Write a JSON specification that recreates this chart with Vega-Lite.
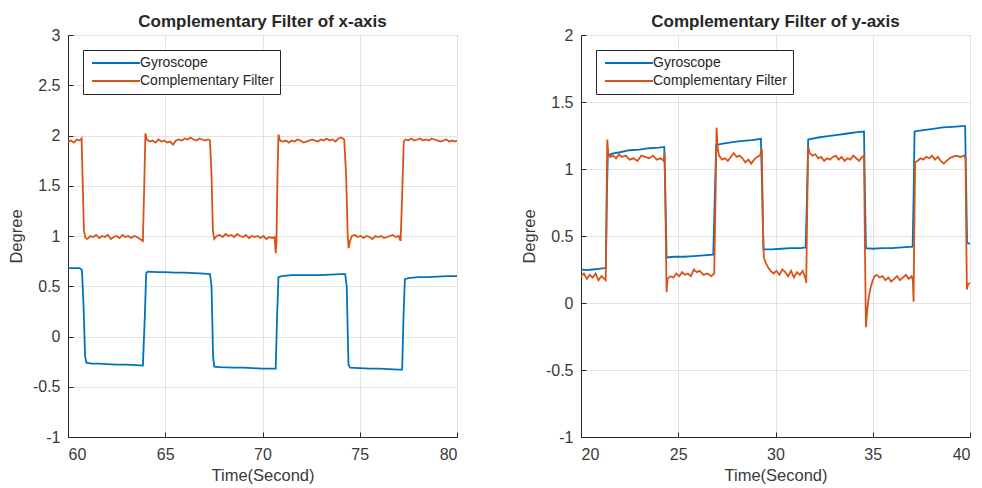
{
  "$schema": "https://vega.github.io/schema/vega-lite/v6.json",
  "background": "white",
  "padding": {"left": 7, "top": 12, "right": 5, "bottom": 0},
  "spacing": 124,
  "bounds": "flush",
  "datasets": {
    "xd": [
      {"t":60.0,"v":0.68,"s":"Gyroscope"},{"t":60.3,"v":0.68,"s":"Gyroscope"},{"t":60.6,"v":0.68,"s":"Gyroscope"},{"t":60.72,"v":0.66,"s":"Gyroscope"},{"t":60.8,"v":0.3,"s":"Gyroscope"},{"t":60.88,"v":-0.2,"s":"Gyroscope"},{"t":60.95,"v":-0.26,"s":"Gyroscope"},{"t":61.2,"v":-0.27,"s":"Gyroscope"},{"t":61.6,"v":-0.27,"s":"Gyroscope"},{"t":62.0,"v":-0.275,"s":"Gyroscope"},{"t":62.5,"v":-0.28,"s":"Gyroscope"},{"t":63.0,"v":-0.28,"s":"Gyroscope"},{"t":63.5,"v":-0.285,"s":"Gyroscope"},{"t":63.85,"v":-0.29,"s":"Gyroscope"},{"t":63.95,"v":0.2,"s":"Gyroscope"},{"t":64.02,"v":0.63,"s":"Gyroscope"},{"t":64.1,"v":0.645,"s":"Gyroscope"},{"t":64.6,"v":0.64,"s":"Gyroscope"},{"t":65.0,"v":0.64,"s":"Gyroscope"},{"t":65.5,"v":0.635,"s":"Gyroscope"},{"t":66.0,"v":0.635,"s":"Gyroscope"},{"t":66.5,"v":0.63,"s":"Gyroscope"},{"t":67.0,"v":0.625,"s":"Gyroscope"},{"t":67.3,"v":0.62,"s":"Gyroscope"},{"t":67.38,"v":0.5,"s":"Gyroscope"},{"t":67.46,"v":-0.2,"s":"Gyroscope"},{"t":67.52,"v":-0.3,"s":"Gyroscope"},{"t":67.8,"v":-0.305,"s":"Gyroscope"},{"t":68.5,"v":-0.31,"s":"Gyroscope"},{"t":69.0,"v":-0.31,"s":"Gyroscope"},{"t":69.5,"v":-0.315,"s":"Gyroscope"},{"t":70.0,"v":-0.32,"s":"Gyroscope"},{"t":70.5,"v":-0.32,"s":"Gyroscope"},{"t":70.68,"v":-0.32,"s":"Gyroscope"},{"t":70.75,"v":0.2,"s":"Gyroscope"},{"t":70.82,"v":0.59,"s":"Gyroscope"},{"t":71.0,"v":0.6,"s":"Gyroscope"},{"t":71.5,"v":0.61,"s":"Gyroscope"},{"t":72.0,"v":0.61,"s":"Gyroscope"},{"t":72.5,"v":0.61,"s":"Gyroscope"},{"t":73.0,"v":0.61,"s":"Gyroscope"},{"t":73.5,"v":0.615,"s":"Gyroscope"},{"t":74.0,"v":0.62,"s":"Gyroscope"},{"t":74.25,"v":0.62,"s":"Gyroscope"},{"t":74.33,"v":0.5,"s":"Gyroscope"},{"t":74.42,"v":-0.28,"s":"Gyroscope"},{"t":74.5,"v":-0.31,"s":"Gyroscope"},{"t":75.0,"v":-0.315,"s":"Gyroscope"},{"t":75.5,"v":-0.32,"s":"Gyroscope"},{"t":76.0,"v":-0.32,"s":"Gyroscope"},{"t":76.5,"v":-0.325,"s":"Gyroscope"},{"t":77.0,"v":-0.33,"s":"Gyroscope"},{"t":77.18,"v":-0.33,"s":"Gyroscope"},{"t":77.25,"v":0.2,"s":"Gyroscope"},{"t":77.32,"v":0.57,"s":"Gyroscope"},{"t":77.5,"v":0.58,"s":"Gyroscope"},{"t":78.0,"v":0.59,"s":"Gyroscope"},{"t":78.5,"v":0.59,"s":"Gyroscope"},{"t":79.0,"v":0.595,"s":"Gyroscope"},{"t":79.5,"v":0.6,"s":"Gyroscope"},{"t":80.0,"v":0.6,"s":"Gyroscope"},
      {"t":60.0,"v":1.94,"s":"Complementary Filter"},{"t":60.15,"v":1.95,"s":"Complementary Filter"},{"t":60.3,"v":1.93,"s":"Complementary Filter"},{"t":60.45,"v":1.96,"s":"Complementary Filter"},{"t":60.6,"v":1.95,"s":"Complementary Filter"},{"t":60.7,"v":1.97,"s":"Complementary Filter"},{"t":60.76,"v":1.5,"s":"Complementary Filter"},{"t":60.82,"v":1.05,"s":"Complementary Filter"},{"t":60.9,"v":0.98,"s":"Complementary Filter"},{"t":61.0,"v":0.97,"s":"Complementary Filter"},{"t":61.15,"v":1.0,"s":"Complementary Filter"},{"t":61.3,"v":0.99,"s":"Complementary Filter"},{"t":61.45,"v":1.01,"s":"Complementary Filter"},{"t":61.6,"v":0.98,"s":"Complementary Filter"},{"t":61.75,"v":1.0,"s":"Complementary Filter"},{"t":61.9,"v":0.99,"s":"Complementary Filter"},{"t":62.05,"v":1.01,"s":"Complementary Filter"},{"t":62.2,"v":0.97,"s":"Complementary Filter"},{"t":62.35,"v":0.99,"s":"Complementary Filter"},{"t":62.5,"v":1.0,"s":"Complementary Filter"},{"t":62.65,"v":0.98,"s":"Complementary Filter"},{"t":62.8,"v":1.01,"s":"Complementary Filter"},{"t":62.95,"v":0.99,"s":"Complementary Filter"},{"t":63.1,"v":1.0,"s":"Complementary Filter"},{"t":63.25,"v":0.98,"s":"Complementary Filter"},{"t":63.4,"v":1.0,"s":"Complementary Filter"},{"t":63.55,"v":0.99,"s":"Complementary Filter"},{"t":63.7,"v":0.97,"s":"Complementary Filter"},{"t":63.85,"v":0.95,"s":"Complementary Filter"},{"t":63.92,"v":1.5,"s":"Complementary Filter"},{"t":63.98,"v":2.02,"s":"Complementary Filter"},{"t":64.05,"v":1.96,"s":"Complementary Filter"},{"t":64.2,"v":1.94,"s":"Complementary Filter"},{"t":64.35,"v":1.95,"s":"Complementary Filter"},{"t":64.5,"v":1.93,"s":"Complementary Filter"},{"t":64.65,"v":1.96,"s":"Complementary Filter"},{"t":64.8,"v":1.94,"s":"Complementary Filter"},{"t":64.95,"v":1.95,"s":"Complementary Filter"},{"t":65.1,"v":1.93,"s":"Complementary Filter"},{"t":65.25,"v":1.94,"s":"Complementary Filter"},{"t":65.4,"v":1.91,"s":"Complementary Filter"},{"t":65.55,"v":1.95,"s":"Complementary Filter"},{"t":65.7,"v":1.96,"s":"Complementary Filter"},{"t":65.85,"v":1.95,"s":"Complementary Filter"},{"t":66.0,"v":1.97,"s":"Complementary Filter"},{"t":66.15,"v":1.96,"s":"Complementary Filter"},{"t":66.3,"v":1.98,"s":"Complementary Filter"},{"t":66.45,"v":1.96,"s":"Complementary Filter"},{"t":66.6,"v":1.95,"s":"Complementary Filter"},{"t":66.75,"v":1.97,"s":"Complementary Filter"},{"t":66.9,"v":1.96,"s":"Complementary Filter"},{"t":67.05,"v":1.95,"s":"Complementary Filter"},{"t":67.2,"v":1.96,"s":"Complementary Filter"},{"t":67.3,"v":1.95,"s":"Complementary Filter"},{"t":67.38,"v":1.6,"s":"Complementary Filter"},{"t":67.45,"v":1.05,"s":"Complementary Filter"},{"t":67.52,"v":0.97,"s":"Complementary Filter"},{"t":67.65,"v":1.0,"s":"Complementary Filter"},{"t":67.8,"v":1.01,"s":"Complementary Filter"},{"t":67.95,"v":0.99,"s":"Complementary Filter"},{"t":68.1,"v":1.02,"s":"Complementary Filter"},{"t":68.25,"v":1.0,"s":"Complementary Filter"},{"t":68.4,"v":1.01,"s":"Complementary Filter"},{"t":68.55,"v":0.99,"s":"Complementary Filter"},{"t":68.7,"v":1.02,"s":"Complementary Filter"},{"t":68.85,"v":1.0,"s":"Complementary Filter"},{"t":69.0,"v":0.99,"s":"Complementary Filter"},{"t":69.15,"v":1.01,"s":"Complementary Filter"},{"t":69.3,"v":0.98,"s":"Complementary Filter"},{"t":69.45,"v":1.0,"s":"Complementary Filter"},{"t":69.6,"v":0.99,"s":"Complementary Filter"},{"t":69.75,"v":1.0,"s":"Complementary Filter"},{"t":69.9,"v":0.98,"s":"Complementary Filter"},{"t":70.05,"v":1.0,"s":"Complementary Filter"},{"t":70.2,"v":0.97,"s":"Complementary Filter"},{"t":70.35,"v":0.99,"s":"Complementary Filter"},{"t":70.5,"v":0.98,"s":"Complementary Filter"},{"t":70.62,"v":0.99,"s":"Complementary Filter"},{"t":70.68,"v":0.83,"s":"Complementary Filter"},{"t":70.72,"v":0.95,"s":"Complementary Filter"},{"t":70.77,"v":1.6,"s":"Complementary Filter"},{"t":70.82,"v":2.01,"s":"Complementary Filter"},{"t":70.9,"v":1.95,"s":"Complementary Filter"},{"t":71.05,"v":1.94,"s":"Complementary Filter"},{"t":71.2,"v":1.95,"s":"Complementary Filter"},{"t":71.35,"v":1.93,"s":"Complementary Filter"},{"t":71.5,"v":1.95,"s":"Complementary Filter"},{"t":71.65,"v":1.94,"s":"Complementary Filter"},{"t":71.8,"v":1.96,"s":"Complementary Filter"},{"t":71.95,"v":1.95,"s":"Complementary Filter"},{"t":72.1,"v":1.93,"s":"Complementary Filter"},{"t":72.25,"v":1.94,"s":"Complementary Filter"},{"t":72.4,"v":1.95,"s":"Complementary Filter"},{"t":72.55,"v":1.96,"s":"Complementary Filter"},{"t":72.7,"v":1.95,"s":"Complementary Filter"},{"t":72.85,"v":1.94,"s":"Complementary Filter"},{"t":73.0,"v":1.96,"s":"Complementary Filter"},{"t":73.15,"v":1.95,"s":"Complementary Filter"},{"t":73.3,"v":1.97,"s":"Complementary Filter"},{"t":73.45,"v":1.95,"s":"Complementary Filter"},{"t":73.6,"v":1.96,"s":"Complementary Filter"},{"t":73.75,"v":1.94,"s":"Complementary Filter"},{"t":73.9,"v":1.97,"s":"Complementary Filter"},{"t":74.05,"v":1.98,"s":"Complementary Filter"},{"t":74.2,"v":1.96,"s":"Complementary Filter"},{"t":74.3,"v":1.6,"s":"Complementary Filter"},{"t":74.38,"v":1.0,"s":"Complementary Filter"},{"t":74.43,"v":0.88,"s":"Complementary Filter"},{"t":74.5,"v":0.95,"s":"Complementary Filter"},{"t":74.6,"v":1.0,"s":"Complementary Filter"},{"t":74.75,"v":1.01,"s":"Complementary Filter"},{"t":74.9,"v":0.99,"s":"Complementary Filter"},{"t":75.05,"v":1.0,"s":"Complementary Filter"},{"t":75.2,"v":0.98,"s":"Complementary Filter"},{"t":75.35,"v":1.0,"s":"Complementary Filter"},{"t":75.5,"v":0.99,"s":"Complementary Filter"},{"t":75.65,"v":0.97,"s":"Complementary Filter"},{"t":75.8,"v":1.0,"s":"Complementary Filter"},{"t":75.95,"v":0.99,"s":"Complementary Filter"},{"t":76.1,"v":1.0,"s":"Complementary Filter"},{"t":76.25,"v":0.98,"s":"Complementary Filter"},{"t":76.4,"v":0.99,"s":"Complementary Filter"},{"t":76.55,"v":1.0,"s":"Complementary Filter"},{"t":76.7,"v":1.01,"s":"Complementary Filter"},{"t":76.85,"v":0.99,"s":"Complementary Filter"},{"t":77.0,"v":1.0,"s":"Complementary Filter"},{"t":77.1,"v":0.95,"s":"Complementary Filter"},{"t":77.18,"v":1.4,"s":"Complementary Filter"},{"t":77.26,"v":1.94,"s":"Complementary Filter"},{"t":77.35,"v":1.96,"s":"Complementary Filter"},{"t":77.5,"v":1.95,"s":"Complementary Filter"},{"t":77.65,"v":1.97,"s":"Complementary Filter"},{"t":77.8,"v":1.95,"s":"Complementary Filter"},{"t":77.95,"v":1.96,"s":"Complementary Filter"},{"t":78.1,"v":1.97,"s":"Complementary Filter"},{"t":78.25,"v":1.95,"s":"Complementary Filter"},{"t":78.4,"v":1.96,"s":"Complementary Filter"},{"t":78.55,"v":1.95,"s":"Complementary Filter"},{"t":78.7,"v":1.97,"s":"Complementary Filter"},{"t":78.85,"v":1.96,"s":"Complementary Filter"},{"t":79.0,"v":1.95,"s":"Complementary Filter"},{"t":79.15,"v":1.94,"s":"Complementary Filter"},{"t":79.3,"v":1.95,"s":"Complementary Filter"},{"t":79.45,"v":1.96,"s":"Complementary Filter"},{"t":79.6,"v":1.94,"s":"Complementary Filter"},{"t":79.75,"v":1.95,"s":"Complementary Filter"},{"t":79.9,"v":1.94,"s":"Complementary Filter"},{"t":80.0,"v":1.95,"s":"Complementary Filter"}
    ],
    "yd": [
      {"t":20.0,"v":0.25,"s":"Gyroscope"},{"t":20.3,"v":0.245,"s":"Gyroscope"},{"t":20.6,"v":0.25,"s":"Gyroscope"},{"t":20.9,"v":0.255,"s":"Gyroscope"},{"t":21.2,"v":0.26,"s":"Gyroscope"},{"t":21.28,"v":0.26,"s":"Gyroscope"},{"t":21.33,"v":0.8,"s":"Gyroscope"},{"t":21.38,"v":1.1,"s":"Gyroscope"},{"t":21.6,"v":1.115,"s":"Gyroscope"},{"t":22.0,"v":1.125,"s":"Gyroscope"},{"t":22.5,"v":1.14,"s":"Gyroscope"},{"t":23.0,"v":1.145,"s":"Gyroscope"},{"t":23.5,"v":1.155,"s":"Gyroscope"},{"t":24.0,"v":1.16,"s":"Gyroscope"},{"t":24.28,"v":1.165,"s":"Gyroscope"},{"t":24.34,"v":0.8,"s":"Gyroscope"},{"t":24.4,"v":0.34,"s":"Gyroscope"},{"t":24.8,"v":0.345,"s":"Gyroscope"},{"t":25.3,"v":0.345,"s":"Gyroscope"},{"t":25.8,"v":0.35,"s":"Gyroscope"},{"t":26.3,"v":0.355,"s":"Gyroscope"},{"t":26.8,"v":0.36,"s":"Gyroscope"},{"t":26.88,"v":0.8,"s":"Gyroscope"},{"t":26.95,"v":1.18,"s":"Gyroscope"},{"t":27.3,"v":1.19,"s":"Gyroscope"},{"t":27.8,"v":1.2,"s":"Gyroscope"},{"t":28.3,"v":1.21,"s":"Gyroscope"},{"t":28.8,"v":1.215,"s":"Gyroscope"},{"t":29.25,"v":1.225,"s":"Gyroscope"},{"t":29.32,"v":0.8,"s":"Gyroscope"},{"t":29.38,"v":0.4,"s":"Gyroscope"},{"t":29.8,"v":0.4,"s":"Gyroscope"},{"t":30.3,"v":0.405,"s":"Gyroscope"},{"t":30.8,"v":0.41,"s":"Gyroscope"},{"t":31.3,"v":0.41,"s":"Gyroscope"},{"t":31.55,"v":0.415,"s":"Gyroscope"},{"t":31.62,"v":0.8,"s":"Gyroscope"},{"t":31.68,"v":1.22,"s":"Gyroscope"},{"t":32.2,"v":1.235,"s":"Gyroscope"},{"t":32.7,"v":1.245,"s":"Gyroscope"},{"t":33.2,"v":1.255,"s":"Gyroscope"},{"t":33.7,"v":1.265,"s":"Gyroscope"},{"t":34.2,"v":1.275,"s":"Gyroscope"},{"t":34.55,"v":1.28,"s":"Gyroscope"},{"t":34.6,"v":0.8,"s":"Gyroscope"},{"t":34.65,"v":0.41,"s":"Gyroscope"},{"t":35.0,"v":0.405,"s":"Gyroscope"},{"t":35.5,"v":0.41,"s":"Gyroscope"},{"t":36.0,"v":0.41,"s":"Gyroscope"},{"t":36.5,"v":0.415,"s":"Gyroscope"},{"t":37.05,"v":0.42,"s":"Gyroscope"},{"t":37.1,"v":0.8,"s":"Gyroscope"},{"t":37.15,"v":1.28,"s":"Gyroscope"},{"t":37.6,"v":1.29,"s":"Gyroscope"},{"t":38.1,"v":1.3,"s":"Gyroscope"},{"t":38.6,"v":1.31,"s":"Gyroscope"},{"t":39.1,"v":1.315,"s":"Gyroscope"},{"t":39.6,"v":1.32,"s":"Gyroscope"},{"t":39.75,"v":1.32,"s":"Gyroscope"},{"t":39.8,"v":0.9,"s":"Gyroscope"},{"t":39.85,"v":0.45,"s":"Gyroscope"},{"t":40.0,"v":0.44,"s":"Gyroscope"},
      {"t":20.0,"v":0.2,"s":"Complementary Filter"},{"t":20.15,"v":0.22,"s":"Complementary Filter"},{"t":20.3,"v":0.18,"s":"Complementary Filter"},{"t":20.45,"v":0.21,"s":"Complementary Filter"},{"t":20.6,"v":0.19,"s":"Complementary Filter"},{"t":20.75,"v":0.22,"s":"Complementary Filter"},{"t":20.9,"v":0.17,"s":"Complementary Filter"},{"t":21.05,"v":0.2,"s":"Complementary Filter"},{"t":21.2,"v":0.18,"s":"Complementary Filter"},{"t":21.27,"v":0.17,"s":"Complementary Filter"},{"t":21.31,"v":0.7,"s":"Complementary Filter"},{"t":21.35,"v":1.22,"s":"Complementary Filter"},{"t":21.4,"v":1.12,"s":"Complementary Filter"},{"t":21.5,"v":1.09,"s":"Complementary Filter"},{"t":21.65,"v":1.1,"s":"Complementary Filter"},{"t":21.8,"v":1.08,"s":"Complementary Filter"},{"t":21.95,"v":1.11,"s":"Complementary Filter"},{"t":22.1,"v":1.09,"s":"Complementary Filter"},{"t":22.3,"v":1.1,"s":"Complementary Filter"},{"t":22.5,"v":1.07,"s":"Complementary Filter"},{"t":22.7,"v":1.08,"s":"Complementary Filter"},{"t":22.9,"v":1.06,"s":"Complementary Filter"},{"t":23.1,"v":1.1,"s":"Complementary Filter"},{"t":23.3,"v":1.09,"s":"Complementary Filter"},{"t":23.5,"v":1.08,"s":"Complementary Filter"},{"t":23.7,"v":1.1,"s":"Complementary Filter"},{"t":23.9,"v":1.07,"s":"Complementary Filter"},{"t":24.1,"v":1.08,"s":"Complementary Filter"},{"t":24.25,"v":1.06,"s":"Complementary Filter"},{"t":24.3,"v":1.12,"s":"Complementary Filter"},{"t":24.35,"v":0.6,"s":"Complementary Filter"},{"t":24.4,"v":0.08,"s":"Complementary Filter"},{"t":24.45,"v":0.18,"s":"Complementary Filter"},{"t":24.6,"v":0.2,"s":"Complementary Filter"},{"t":24.75,"v":0.19,"s":"Complementary Filter"},{"t":24.9,"v":0.22,"s":"Complementary Filter"},{"t":25.05,"v":0.2,"s":"Complementary Filter"},{"t":25.2,"v":0.23,"s":"Complementary Filter"},{"t":25.35,"v":0.21,"s":"Complementary Filter"},{"t":25.5,"v":0.22,"s":"Complementary Filter"},{"t":25.65,"v":0.2,"s":"Complementary Filter"},{"t":25.8,"v":0.25,"s":"Complementary Filter"},{"t":25.95,"v":0.23,"s":"Complementary Filter"},{"t":26.1,"v":0.24,"s":"Complementary Filter"},{"t":26.3,"v":0.21,"s":"Complementary Filter"},{"t":26.5,"v":0.22,"s":"Complementary Filter"},{"t":26.7,"v":0.2,"s":"Complementary Filter"},{"t":26.85,"v":0.22,"s":"Complementary Filter"},{"t":26.92,"v":0.8,"s":"Complementary Filter"},{"t":26.97,"v":1.31,"s":"Complementary Filter"},{"t":27.03,"v":1.15,"s":"Complementary Filter"},{"t":27.1,"v":1.1,"s":"Complementary Filter"},{"t":27.25,"v":1.07,"s":"Complementary Filter"},{"t":27.4,"v":1.08,"s":"Complementary Filter"},{"t":27.55,"v":1.06,"s":"Complementary Filter"},{"t":27.7,"v":1.09,"s":"Complementary Filter"},{"t":27.85,"v":1.12,"s":"Complementary Filter"},{"t":28.0,"v":1.09,"s":"Complementary Filter"},{"t":28.15,"v":1.1,"s":"Complementary Filter"},{"t":28.3,"v":1.08,"s":"Complementary Filter"},{"t":28.45,"v":1.05,"s":"Complementary Filter"},{"t":28.6,"v":1.07,"s":"Complementary Filter"},{"t":28.75,"v":1.04,"s":"Complementary Filter"},{"t":28.9,"v":1.07,"s":"Complementary Filter"},{"t":29.05,"v":1.09,"s":"Complementary Filter"},{"t":29.2,"v":1.1,"s":"Complementary Filter"},{"t":29.3,"v":1.15,"s":"Complementary Filter"},{"t":29.35,"v":0.6,"s":"Complementary Filter"},{"t":29.4,"v":0.34,"s":"Complementary Filter"},{"t":29.5,"v":0.3,"s":"Complementary Filter"},{"t":29.6,"v":0.27,"s":"Complementary Filter"},{"t":29.75,"v":0.24,"s":"Complementary Filter"},{"t":29.9,"v":0.22,"s":"Complementary Filter"},{"t":30.05,"v":0.24,"s":"Complementary Filter"},{"t":30.2,"v":0.21,"s":"Complementary Filter"},{"t":30.35,"v":0.25,"s":"Complementary Filter"},{"t":30.5,"v":0.23,"s":"Complementary Filter"},{"t":30.65,"v":0.2,"s":"Complementary Filter"},{"t":30.8,"v":0.24,"s":"Complementary Filter"},{"t":30.95,"v":0.19,"s":"Complementary Filter"},{"t":31.1,"v":0.23,"s":"Complementary Filter"},{"t":31.25,"v":0.21,"s":"Complementary Filter"},{"t":31.4,"v":0.24,"s":"Complementary Filter"},{"t":31.55,"v":0.18,"s":"Complementary Filter"},{"t":31.58,"v":0.15,"s":"Complementary Filter"},{"t":31.63,"v":0.7,"s":"Complementary Filter"},{"t":31.68,"v":1.17,"s":"Complementary Filter"},{"t":31.75,"v":1.12,"s":"Complementary Filter"},{"t":31.9,"v":1.1,"s":"Complementary Filter"},{"t":32.05,"v":1.11,"s":"Complementary Filter"},{"t":32.2,"v":1.08,"s":"Complementary Filter"},{"t":32.35,"v":1.09,"s":"Complementary Filter"},{"t":32.5,"v":1.06,"s":"Complementary Filter"},{"t":32.65,"v":1.08,"s":"Complementary Filter"},{"t":32.8,"v":1.07,"s":"Complementary Filter"},{"t":32.95,"v":1.09,"s":"Complementary Filter"},{"t":33.1,"v":1.1,"s":"Complementary Filter"},{"t":33.25,"v":1.07,"s":"Complementary Filter"},{"t":33.4,"v":1.09,"s":"Complementary Filter"},{"t":33.55,"v":1.06,"s":"Complementary Filter"},{"t":33.7,"v":1.08,"s":"Complementary Filter"},{"t":33.85,"v":1.07,"s":"Complementary Filter"},{"t":34.0,"v":1.1,"s":"Complementary Filter"},{"t":34.15,"v":1.08,"s":"Complementary Filter"},{"t":34.3,"v":1.06,"s":"Complementary Filter"},{"t":34.45,"v":1.09,"s":"Complementary Filter"},{"t":34.55,"v":1.1,"s":"Complementary Filter"},{"t":34.6,"v":0.4,"s":"Complementary Filter"},{"t":34.65,"v":-0.18,"s":"Complementary Filter"},{"t":34.72,"v":-0.05,"s":"Complementary Filter"},{"t":34.8,"v":0.05,"s":"Complementary Filter"},{"t":34.9,"v":0.12,"s":"Complementary Filter"},{"t":35.0,"v":0.17,"s":"Complementary Filter"},{"t":35.1,"v":0.2,"s":"Complementary Filter"},{"t":35.2,"v":0.21,"s":"Complementary Filter"},{"t":35.35,"v":0.19,"s":"Complementary Filter"},{"t":35.5,"v":0.2,"s":"Complementary Filter"},{"t":35.65,"v":0.17,"s":"Complementary Filter"},{"t":35.8,"v":0.19,"s":"Complementary Filter"},{"t":35.95,"v":0.16,"s":"Complementary Filter"},{"t":36.1,"v":0.18,"s":"Complementary Filter"},{"t":36.25,"v":0.2,"s":"Complementary Filter"},{"t":36.4,"v":0.17,"s":"Complementary Filter"},{"t":36.55,"v":0.19,"s":"Complementary Filter"},{"t":36.7,"v":0.21,"s":"Complementary Filter"},{"t":36.85,"v":0.18,"s":"Complementary Filter"},{"t":37.0,"v":0.2,"s":"Complementary Filter"},{"t":37.06,"v":0.17,"s":"Complementary Filter"},{"t":37.1,"v":0.01,"s":"Complementary Filter"},{"t":37.14,"v":0.6,"s":"Complementary Filter"},{"t":37.18,"v":1.05,"s":"Complementary Filter"},{"t":37.3,"v":1.06,"s":"Complementary Filter"},{"t":37.45,"v":1.08,"s":"Complementary Filter"},{"t":37.6,"v":1.07,"s":"Complementary Filter"},{"t":37.75,"v":1.09,"s":"Complementary Filter"},{"t":37.9,"v":1.08,"s":"Complementary Filter"},{"t":38.05,"v":1.1,"s":"Complementary Filter"},{"t":38.2,"v":1.07,"s":"Complementary Filter"},{"t":38.35,"v":1.09,"s":"Complementary Filter"},{"t":38.5,"v":1.06,"s":"Complementary Filter"},{"t":38.65,"v":1.04,"s":"Complementary Filter"},{"t":38.8,"v":1.06,"s":"Complementary Filter"},{"t":38.95,"v":1.08,"s":"Complementary Filter"},{"t":39.1,"v":1.09,"s":"Complementary Filter"},{"t":39.3,"v":1.1,"s":"Complementary Filter"},{"t":39.5,"v":1.09,"s":"Complementary Filter"},{"t":39.7,"v":1.1,"s":"Complementary Filter"},{"t":39.77,"v":1.08,"s":"Complementary Filter"},{"t":39.8,"v":0.6,"s":"Complementary Filter"},{"t":39.84,"v":0.1,"s":"Complementary Filter"},{"t":39.9,"v":0.14,"s":"Complementary Filter"},{"t":40.0,"v":0.15,"s":"Complementary Filter"}
    ]
  },
  "hconcat": [
    {
      "title": "Complementary Filter of x-axis",
      "width": 389,
      "height": 402,
      "data": {"name": "xd"},
      "mark": {"type": "line", "strokeWidth": 1.8, "clip": true},
      "encoding": {
        "x": {"field": "t", "type": "quantitative", "scale": {"domain": [60, 80], "nice": false, "zero": false},
              "axis": {"title": "Time(Second)", "values": [60, 65, 70, 75, 80], "labelExpr": "'' + datum.value"}},
        "y": {"field": "v", "type": "quantitative", "scale": {"domain": [-1, 3], "nice": false, "zero": false},
              "axis": {"title": "Degree", "values": [-1, -0.5, 0, 0.5, 1, 1.5, 2, 2.5, 3], "labelExpr": "'' + datum.value"}},
        "color": {"field": "s", "type": "nominal", "sort": ["Gyroscope", "Complementary Filter"],
                  "scale": {"domain": ["Gyroscope", "Complementary Filter"], "range": ["#0072BD", "#D95319"]},
                  "legend": {"title": null}}
      }
    },
    {
      "title": "Complementary Filter of y-axis",
      "width": 389,
      "height": 402,
      "data": {"name": "yd"},
      "mark": {"type": "line", "strokeWidth": 1.8, "clip": true},
      "encoding": {
        "x": {"field": "t", "type": "quantitative", "scale": {"domain": [20, 40], "nice": false, "zero": false},
              "axis": {"title": "Time(Second)", "values": [20, 25, 30, 35, 40], "labelExpr": "'' + datum.value"}},
        "y": {"field": "v", "type": "quantitative", "scale": {"domain": [-1, 2], "nice": false, "zero": false},
              "axis": {"title": "Degree", "values": [-1, -0.5, 0, 0.5, 1, 1.5, 2], "labelExpr": "'' + datum.value"}},
        "color": {"field": "s", "type": "nominal", "sort": ["Gyroscope", "Complementary Filter"],
                  "scale": {"domain": ["Gyroscope", "Complementary Filter"], "range": ["#0072BD", "#D95319"]},
                  "legend": {"title": null}}
      }
    }
  ],
  "resolve": {"scale": {"color": "independent"}, "legend": {"color": "independent"}},
  "config": {
    "font": "Liberation Sans",
    "view": {"stroke": "#262626", "strokeWidth": 1},
    "axis": {
      "labelFont": "Liberation Sans", "labelFontSize": 16, "labelColor": "#3a3a3a", "labelPadding": 13,
      "titleFont": "Liberation Sans", "titleFontSize": 16.5, "titleFontWeight": "normal", "titleColor": "#3a3a3a",
      "ticks": true, "tickSize": -5, "tickColor": "#262626", "domainColor": "#262626", "gridColor": "#e2e2e2", "gridWidth": 1
    },
    "axisX": {"labelPadding": 14, "titlePadding": 5},
    "axisY": {"titlePadding": 8},
    "title": {"font": "Liberation Sans", "fontSize": 17, "fontWeight": "bold", "color": "#262626", "frame": "group", "anchor": "middle", "offset": -4},
    "legend": {
      "orient": "top-left", "offset": 15, "strokeColor": "#262626", "fillColor": "white", "padding": 6,
      "symbolType": "M-0.8,0H8.8", "symbolSize": 100, "symbolStrokeWidth": 1.8, "labelFont": "Liberation Sans",
      "labelFontSize": 14, "labelColor": "#262626", "labelOffset": 37, "rowPadding": 4, "labelLimit": 300
    }
  }
}
